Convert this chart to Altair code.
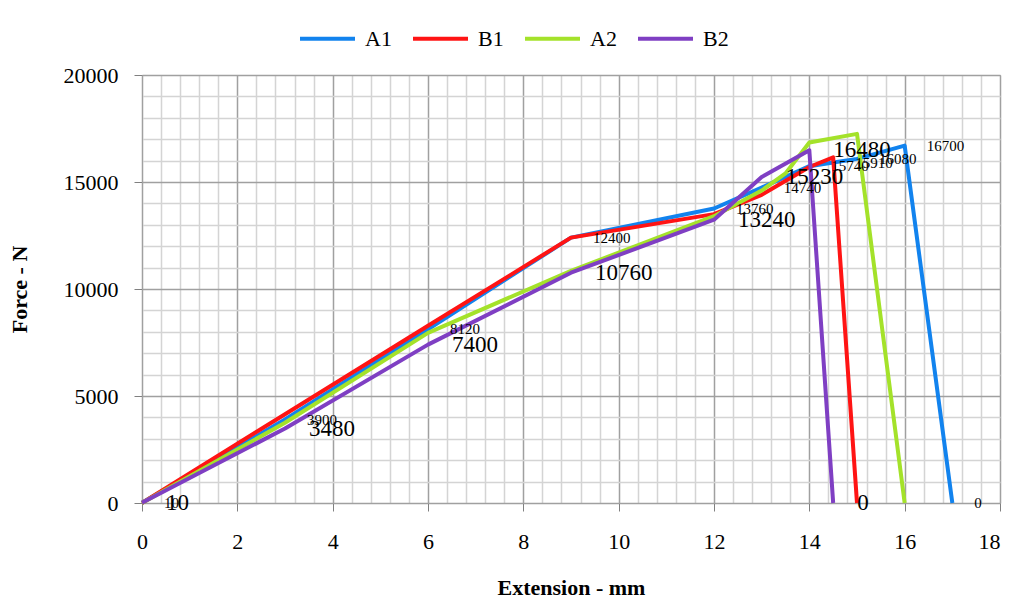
import altair as alt
import pandas as pd

series_names = ["A1", "B1", "A2", "B2"]
series_colors = ["#1283EE", "#FF1414", "#A4E22A", "#7F3FC3"]

a1_x = [0, 3, 6, 9, 12, 13, 14, 14.5, 15, 16, 17]
a1_y = [10, 3900, 8120, 12400, 13760, 14740, 15740, 15910, 16080, 16700, 0]

b1_x = [0, 3, 6, 9, 12, 13, 14, 14.5, 15]
b1_y = [0, 4150, 8280, 12400, 13500, 14400, 15700, 16150, 0]

a2_x = [0, 3, 6, 9, 12, 13, 13.5, 14, 15, 16]
a2_y = [0, 3750, 7950, 10850, 13400, 14600, 15400, 16850, 17250, 0]

b2_x = [0, 3, 6, 9, 12, 13, 14, 14.5]
b2_y = [10, 3480, 7400, 10760, 13240, 15230, 16480, 0]

x_grid_values = [round(i * 0.4, 1) for i in range(46)]
y_grid_values = list(range(0, 20001, 1000))

rows = []
for name, xs, ys in [("A1", a1_x, a1_y), ("B1", b1_x, b1_y), ("A2", a2_x, a2_y), ("B2", b2_x, b2_y)]:
    for i, (xv, yv) in enumerate(zip(xs, ys)):
        rows.append({"series": name, "ext": xv, "force": yv, "idx": i})
df = pd.DataFrame(rows)
df_a1 = df[df.series == "A1"]
df_b2 = df[df.series == "B2"]

FONT = "Liberation Serif"
MAJOR_X = "abs(datum.value - 2 * round(datum.value / 2)) < 0.001"

x_axis = alt.Axis(
    values=x_grid_values,
    tickCount=200,
    title="Extension - mm",
    titleFontWeight="bold",
    titleY=84,
    titleBaseline="middle",
    labelExpr=MAJOR_X + " ? format(datum.value, 'd') : ''",
    labelAlign={"condition": {"test": "datum.value > 17.9", "value": "right"}, "value": "center"},
    labelOverlap=False,
    labelFlush=False,
    labelPadding=20,
    tickSize=8,
    gridColor={"condition": {"test": MAJOR_X, "value": "#a0a0a0"}, "value": "#d4d4d4"},
    tickOpacity={"condition": {"test": MAJOR_X, "value": 1}, "value": 0},
)
y_axis = alt.Axis(
    values=y_grid_values,
    tickCount=200,
    title="Force - N",
    titleFontWeight="bold",
    titleAngle=270,
    titleX=-123,
    titleY=214,
    titleAlign="center",
    titleBaseline="middle",
    labelExpr="datum.value % 5000 === 0 ? datum.label : ''",
    format="d",
    labelOverlap=False,
    labelFlush=False,
    labelPadding=16,
    tickSize=8,
    gridColor={"condition": {"test": "datum.value % 5000 === 0", "value": "#a0a0a0"}, "value": "#d4d4d4"},
    tickOpacity={"condition": {"test": "datum.value % 5000 === 0", "value": 1}, "value": 0},
)

x_enc = alt.X("ext:Q", scale=alt.Scale(domain=[0, 18], nice=False, zero=True), axis=x_axis)
y_enc = alt.Y("force:Q", scale=alt.Scale(domain=[0, 20000], nice=False), axis=y_axis)

lines = alt.Chart(df).mark_line(strokeWidth=4, strokeJoin="round").encode(
    x=x_enc,
    y=y_enc,
    color=alt.Color(
        "series:N",
        scale=alt.Scale(domain=series_names, range=series_colors),
        sort=series_names,
        legend=alt.Legend(
            orient="none",
            legendX=156,
            legendY=-66,
            direction="horizontal",
            title=None,
            symbolType="stroke",
            symbolSize=3025,
            symbolStrokeWidth=4,
            labelFont=FONT,
            labelFontSize=22,
            labelColor="black",
            labelOffset=8,
            columnPadding=13,
            padding=0,
        ),
    ),
    order="idx:Q",
)

labels_a1 = alt.Chart(df_a1).mark_text(
    align="left", baseline="middle", dx=22, font=FONT, fontSize=15, color="black"
).encode(x=x_enc, y=y_enc, text=alt.Text("force:Q", format="d"))

labels_b2 = alt.Chart(df_b2).mark_text(
    align="left", baseline="middle", dx=24, font=FONT, fontSize=23, color="black"
).encode(x=x_enc, y=y_enc, text=alt.Text("force:Q", format="d"))

chart = alt.layer(lines, labels_a1, labels_b2).properties(
    width=858,
    height=428,
    padding={"left": 134, "top": 67, "right": 9, "bottom": 97},
    autosize=alt.AutoSizeParams(type="none"),
    background="white",
).configure_axis(
    labelFont=FONT,
    titleFont=FONT,
    labelFontSize=22,
    titleFontSize=22,
    labelColor="black",
    titleColor="black",
    domainColor="#a0a0a0",
    tickColor="#808080",
    gridWidth=1.5,
).configure_view(stroke="#a0a0a0")

chart.save("out.html", embed_options={"renderer": "svg", "actions": False})
